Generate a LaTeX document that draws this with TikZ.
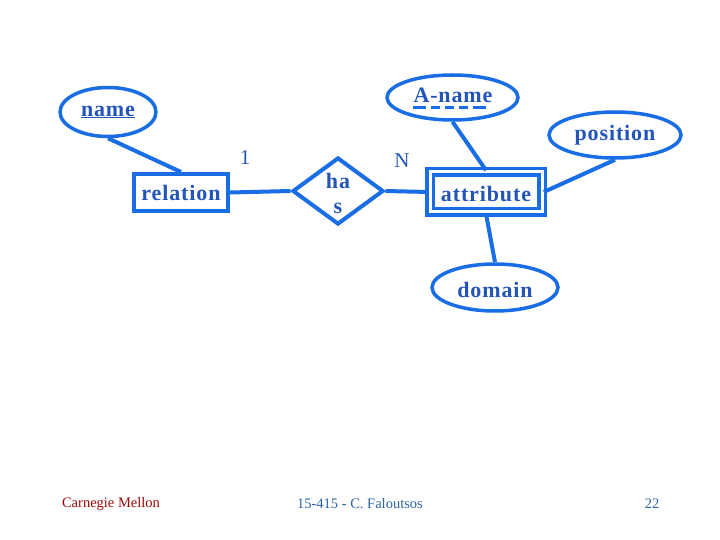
\documentclass[tikz,border=0pt]{standalone}
\usepackage{fontspec}
\setmainfont{Liberation Serif}
\newfontfamily\lblfont[LetterSpace=4]{Liberation Serif}
\usetikzlibrary{shapes.geometric}
\definecolor{erblue}{RGB}{25,110,230}
\definecolor{txtblue}{RGB}{35,85,185}
\definecolor{cmured}{RGB}{155,10,10}
\definecolor{footblue}{RGB}{45,100,170}
\begin{document}
\begin{tikzpicture}[x=1pt,y=-1pt,
  ent/.style={draw=erblue, line width=4pt, rectangle, inner sep=0pt},
  weakent/.style={draw=erblue, line width=3.5pt, double=white, double distance=3pt, rectangle, inner sep=0pt},
  attr/.style={draw=erblue, line width=3.5pt, ellipse, inner sep=0pt},
  rel/.style={draw=erblue, line width=4pt, diamond, inner sep=0pt},
  lbl/.style={text=txtblue, inner sep=0pt, font=\lblfont\fontsize{22}{24}\selectfont\bfseries},
  conn/.style={draw=erblue, line width=4pt},
  card/.style={text=txtblue, inner sep=0pt, font=\fontsize{21}{23}\selectfont},
  foot/.style={inner sep=0pt, font=\fontsize{14.5}{16}\selectfont}]
\useasboundingbox[fill=white] (0,0) rectangle (720,540);
% shapes
\node[attr, minimum width=96, minimum height=49] (name) at (108,112) {};
\node[ent, minimum width=94, minimum height=37] (relation) at (181,192.5) {};
\node[rel, minimum width=91, minimum height=67] (has) at (338,191) {};
\node[weakent, minimum width=112, minimum height=40] (attribute) at (486,192) {};
\node[attr, minimum width=131, minimum height=45] (aname) at (452.5,97.5) {};
\node[attr, minimum width=132, minimum height=46] (position) at (615,135) {};
\node[attr, minimum width=126, minimum height=47] (domain) at (495,287.5) {};
% labels
\node[lbl] (nametext) at (108,112) {\underline{name}};
\node[lbl] (reltext) at (181,193) {relation};
\node[lbl] (hastext1) at (338,181) {ha};
\node[lbl] (hastext2) at (338,208) {s};
\node[lbl] (attrtext) at (486,194) {attribute};
\node[lbl, anchor=base] (anametext) at (453,103) {A-name};
\node[lbl] (postext) at (615,135) {position};
\node[lbl] (domtext) at (495,290) {domain};
\draw[erblue, line width=3pt, dash pattern=on 13pt off 5pt on 9pt off 5pt on 9pt off 5pt on 9pt off 5pt]
  ([yshift=-5pt]anametext.base west) -- ([yshift=-5pt,xshift=-4pt]anametext.base east);
% connectors
\draw[conn] (name.south) -- (relation.north);
\draw[conn] (relation.east) -- (has.west);
\draw[conn] (has.east) -- (attribute.west);
\draw[conn] (aname.south) -- (attribute.north);
\draw[conn] (position.south) -- (attribute.east);
\draw[conn] (attribute.south) -- (domain.north);
% cardinalities
\node[card] (one) at (245,158) {1};
\node[card] (many) at (402,161) {N};
% footer
\node[foot, text=cmured] (cmu) at (111,504) {Carnegie Mellon};
\node[foot, text=footblue] (course) at (360,504) {15-415 - C. Faloutsos};
\node[foot, text=footblue] (page) at (652,504) {22};
\end{tikzpicture}
\end{document}
